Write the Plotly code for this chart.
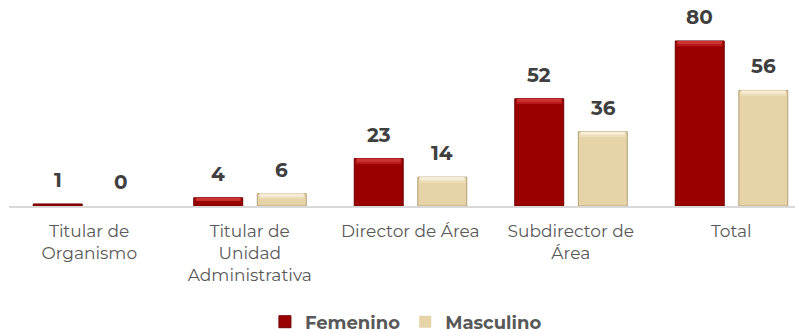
import plotly.graph_objects as go

# Puestos de mando por sexo
categorias = ["Titular de<br>Organismo", "Titular de<br>Unidad<br>Administrativa",
              "Director de Área", "Subdirector de<br>Área", "Total"]
femenino = [1, 4, 23, 52, 80]
masculino = [0, 6, 14, 36, 56]

FONT = "Montserrat, 'Open Sans', sans-serif"
ANCHO = 0.305
series = [
    ("Femenino", femenino, -0.349, "#9A0000", "#6E0000", ["#B81A1C", "#CC3434"]),
    ("Masculino", masculino, 0.047, "#E6D3A7", "#B2A078", ["#EEDFBC", "#F6EDD6"]),
]

fig = go.Figure()
for nombre, valores, offset, color, borde, brillos in series:
    fig.add_trace(go.Bar(
        name=nombre, x=categorias, y=valores, offset=offset, width=ANCHO,
        marker=dict(color=color,
                    line=dict(color=borde, width=[1 if v > 0 else 0 for v in valores])),
    ))
    # bisel superior de cada barra, en dos tonos
    for i, brillo in enumerate(brillos):
        alto = [min(2.6 - i * 1.1, v * 0.4) if v > 1 else 0 for v in valores]
        fig.add_trace(go.Bar(
            x=categorias, y=alto, base=[v - a for v, a in zip(valores, alto)],
            offset=offset + 0.01 + i * 0.006, width=ANCHO - 0.02 - i * 0.012,
            showlegend=False, hoverinfo="skip",
            marker=dict(color=brillo, line=dict(width=0)),
        ))

# etiquetas de valor sobre cada barra
for nombre, valores, offset, *_ in series:
    for cat, v in zip(categorias, valores):
        fig.add_annotation(
            x=cat, y=v, text=f"<b>{v}</b>", showarrow=False,
            xshift=(offset + ANCHO / 2) * 160.5, yshift=24,
            font=dict(family=FONT, size=20, color="#404040"),
        )

fig.update_layout(
    width=795, height=333, barmode="overlay",
    margin=dict(l=9, r=0, t=10, b=127, autoexpand=False),
    paper_bgcolor="white", plot_bgcolor="white",
    font=dict(family=FONT, color="#595959"),
    legend=dict(orientation="h", x=0.505, xanchor="center",
                yref="container", y=0.033, yanchor="middle",
                font=dict(family=FONT, size=18, color="#595959", weight="bold"),
                itemwidth=30, tracegroupgap=0),
    xaxis=dict(range=[-0.5, 4.397], showline=True, linecolor="#D9D9D9", linewidth=1.5,
               ticks="", showgrid=False, ticklabelstandoff=9, automargin=False,
               tickfont=dict(family=FONT, size=17, color="#595959")),
    yaxis=dict(range=[0, 95], visible=False, showgrid=False),
)

fig.write_html("out.html")
